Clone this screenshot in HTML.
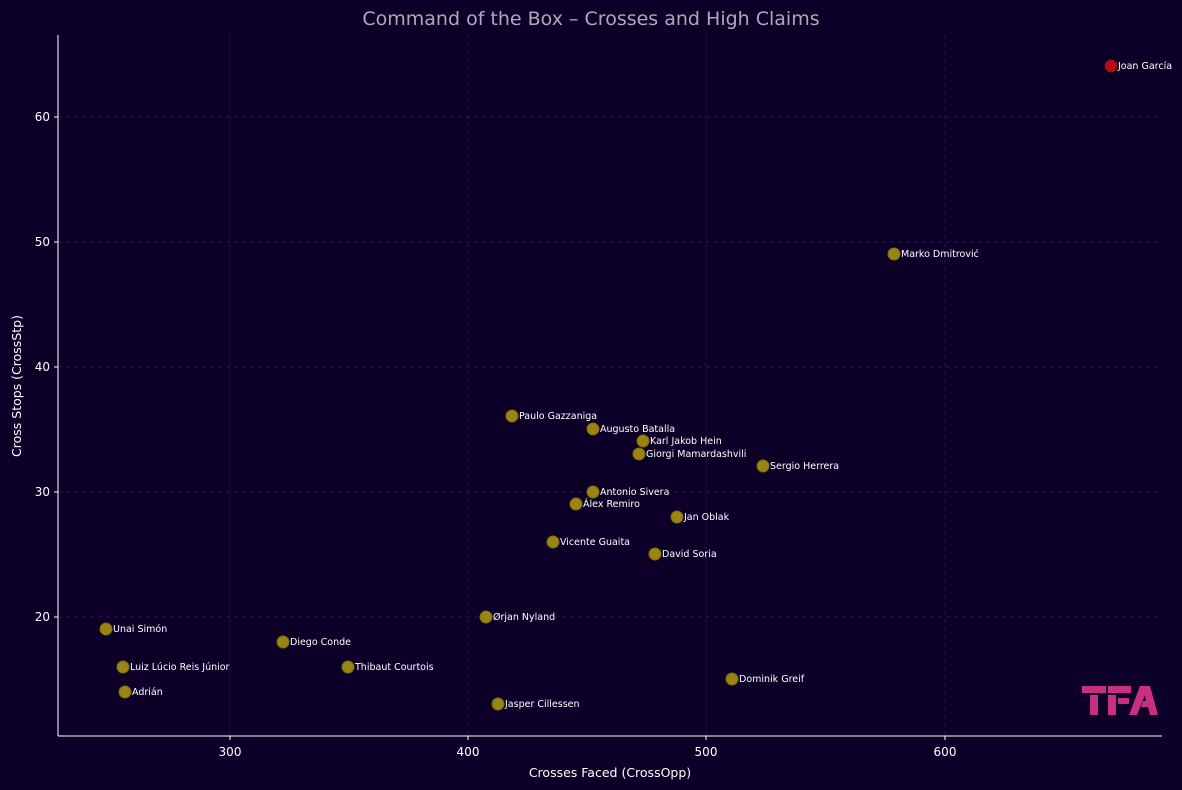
<!DOCTYPE html><html><head><meta charset="utf-8"><style>body{margin:0;background:#0c0028}svg{display:block}</style></head><body>
<svg width="1182" height="790" xmlns="http://www.w3.org/2000/svg" font-family="DejaVu Sans, Liberation Sans, sans-serif">
<rect width="1182" height="790" fill="#0c0028"/>
<g stroke="#2e1f5c" stroke-dasharray="4,4" stroke-width="0.8">
<line x1="230" y1="35" x2="230" y2="736"/><line x1="468" y1="35" x2="468" y2="736"/><line x1="706" y1="35" x2="706" y2="736"/><line x1="945" y1="35" x2="945" y2="736"/>
<line x1="58" y1="117" x2="1162" y2="117"/><line x1="58" y1="242" x2="1162" y2="242"/><line x1="58" y1="367" x2="1162" y2="367"/><line x1="58" y1="492" x2="1162" y2="492"/><line x1="58" y1="617" x2="1162" y2="617"/>
</g>
<g stroke="#fff" stroke-width="1"><line x1="58" y1="35" x2="58" y2="736"/><line x1="58" y1="736" x2="1162" y2="736"/>
<line x1="230" y1="736" x2="230" y2="740"/><line x1="468" y1="736" x2="468" y2="740"/><line x1="706" y1="736" x2="706" y2="740"/><line x1="945" y1="736" x2="945" y2="740"/>
<line x1="54" y1="117" x2="58" y2="117"/><line x1="54" y1="242" x2="58" y2="242"/><line x1="54" y1="367" x2="58" y2="367"/><line x1="54" y1="492" x2="58" y2="492"/><line x1="54" y1="617" x2="58" y2="617"/></g>
<g fill="#fff" font-size="12" text-anchor="middle"><text x="230" y="756">300</text><text x="468" y="756">400</text><text x="706" y="756">500</text><text x="945" y="756">600</text></g>
<g fill="#fff" font-size="12" text-anchor="end"><text x="50" y="121">60</text><text x="50" y="246">50</text><text x="50" y="371">40</text><text x="50" y="496">30</text><text x="50" y="621">20</text></g>
<text x="610" y="777" fill="#fff" font-size="12.5" text-anchor="middle">Crosses Faced (CrossOpp)</text>
<text transform="translate(21,386) rotate(-90)" fill="#fff" font-size="12.5" text-anchor="middle">Cross Stops (CrossStp)</text>
<text x="591" y="25" fill="#b0a8b8" font-size="19" text-anchor="middle">Command of the Box – Crosses and High Claims</text>
<g fill="#9a8510" stroke="#7a6a10" stroke-width="1">
<circle cx="894" cy="254" r="6"/><circle cx="512" cy="416" r="6"/><circle cx="593" cy="429" r="6"/><circle cx="643" cy="441" r="6"/><circle cx="639" cy="454" r="6"/><circle cx="763" cy="466" r="6"/><circle cx="593" cy="492" r="6"/><circle cx="576" cy="504" r="6"/><circle cx="677" cy="517" r="6"/><circle cx="553" cy="542" r="6"/><circle cx="655" cy="554" r="6"/><circle cx="486" cy="617" r="6"/><circle cx="106" cy="629" r="6"/><circle cx="283" cy="642" r="6"/><circle cx="123" cy="667" r="6"/><circle cx="348" cy="667" r="6"/><circle cx="732" cy="679" r="6"/><circle cx="125" cy="692" r="6"/><circle cx="498" cy="704" r="6"/>
</g>
<circle cx="1111" cy="66" r="6" fill="#b01010" stroke="#8a0e0e"/>
<g fill="#fff" font-size="9.5">
<text x="1118" y="69">Joan García</text><text x="901" y="257">Marko Dmitrović</text><text x="519" y="419">Paulo Gazzaniga</text><text x="600" y="432">Augusto Batalla</text><text x="650" y="444">Karl Jakob Hein</text><text x="646" y="457">Giorgi Mamardashvili</text><text x="770" y="469">Sergio Herrera</text><text x="600" y="495">Antonio Sivera</text><text x="583" y="507">Álex Remiro</text><text x="684" y="520">Jan Oblak</text><text x="560" y="545">Vicente Guaita</text><text x="662" y="557">David Soria</text><text x="493" y="620">Ørjan Nyland</text><text x="113" y="632">Unai Simón</text><text x="290" y="645">Diego Conde</text><text x="130" y="670">Luiz Lúcio Reis Júnior</text><text x="355" y="670">Thibaut Courtois</text><text x="739" y="682">Dominik Greif</text><text x="132" y="695">Adrián</text><text x="505" y="707">Jasper Cillessen</text>
</g>
<g fill="#c8307f">
<rect x="1082" y="686" width="24" height="7"/><rect x="1090" y="695" width="8" height="20"/>
<rect x="1108" y="686" width="23" height="7"/><rect x="1108" y="695" width="8" height="20"/><rect x="1118" y="698" width="11" height="6"/>
<polygon points="1140,686 1150,686 1158,715 1150,715 1148,707 1141,707 1143,701 1146,701 1145,695 1137,715 1129,715"/>
</g>
</svg></body></html>
